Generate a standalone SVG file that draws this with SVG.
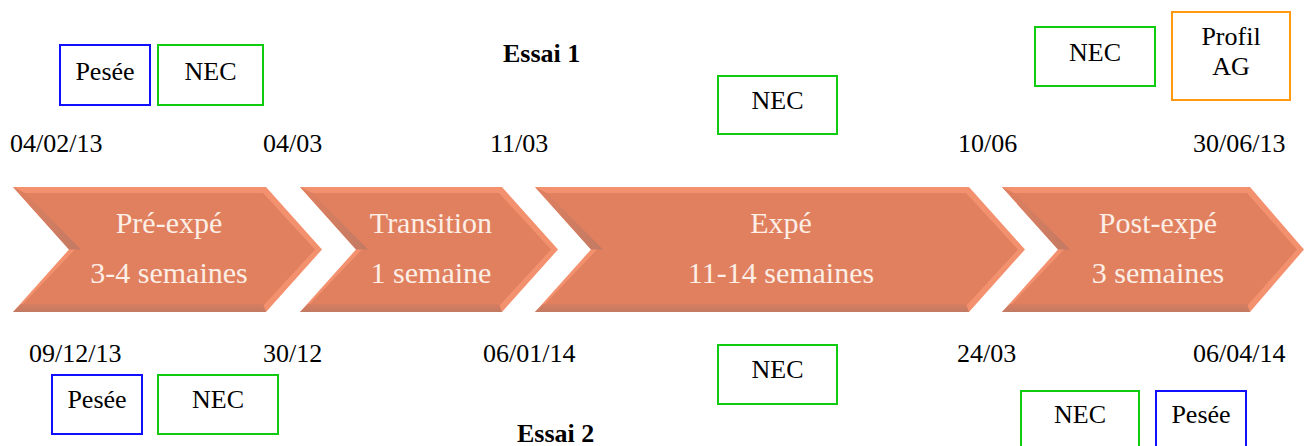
<svg xmlns="http://www.w3.org/2000/svg" width="1304" height="446" viewBox="0 0 1304 446">
<defs>
<style>
.t{font-size:26px;fill:#000}
.b{font-weight:bold}
.c{text-anchor:middle}
.ch{font-size:30px;fill:#fdeee6;text-anchor:middle}
.box{fill:#fff;stroke-width:2}
.blue{stroke:#1010ff}
.green{stroke:#10cc10}
.orange{stroke:#ff9a10}
.hi{fill:#f3906e}
.main{fill:#e0805f}
.dk{fill:url(#gdk)}
.bot{fill:url(#gbot)}
</style>
<linearGradient id="gdk" x1="0" y1="0" x2="1" y2="0">
<stop offset="0" stop-color="#e0805f"/>
<stop offset="1" stop-color="#c27a64"/>
</linearGradient>
<linearGradient id="gbot" x1="0" y1="0" x2="0" y2="1">
<stop offset="0" stop-color="#d87e60"/>
<stop offset="1" stop-color="#c27a63"/>
</linearGradient>
</defs>
<rect width="1304" height="446" fill="#fff"/>
<g font-family="'Liberation Serif', 'DejaVu Serif', serif">
<g id="chevron-pre">
<polygon class="hi" points="13,187 266,187 322,249.5 266,312 13,312 69,249.5"/>
<polygon class="main" points="21,193 263,193 315,249.5 263,306 21,306 75,249.5"/>
<polygon class="dk" points="13,187 25,193 81,249.5 69,249.5"/>
<polygon class="bot" points="21,304 263,304 266,312 13,312"/>
<text class="ch" x="169" y="233">Pré-expé</text>
<text class="ch" x="169" y="283">3-4 semaines</text>
</g>

<g id="chevron-transition">
<polygon class="hi" points="300,187 502,187 558,249.5 502,312 300,312 356,249.5"/>
<polygon class="main" points="308,193 499,193 551,249.5 499,306 308,306 362,249.5"/>
<polygon class="dk" points="300,187 312,193 368,249.5 356,249.5"/>
<polygon class="bot" points="308,304 499,304 502,312 300,312"/>
<text class="ch" x="431" y="233">Transition</text>
<text class="ch" x="431" y="283">1 semaine</text>
</g>

<g id="chevron-expe">
<polygon class="hi" points="535,187 969,187 1025,249.5 969,312 535,312 591,249.5"/>
<polygon class="main" points="543,193 966,193 1018,249.5 966,306 543,306 597,249.5"/>
<polygon class="dk" points="535,187 547,193 603,249.5 591,249.5"/>
<polygon class="bot" points="543,304 966,304 969,312 535,312"/>
<text class="ch" x="781" y="233">Expé</text>
<text class="ch" x="781" y="283">11-14 semaines</text>
</g>

<g id="chevron-post">
<polygon class="hi" points="1002,187 1250,187 1304,249.5 1250,312 1002,312 1058,249.5"/>
<polygon class="main" points="1010,193 1247,193 1297,249.5 1247,306 1010,306 1064,249.5"/>
<polygon class="dk" points="1002,187 1014,193 1070,249.5 1058,249.5"/>
<polygon class="bot" points="1010,304 1247,304 1250,312 1002,312"/>
<text class="ch" x="1158" y="233">Post-expé</text>
<text class="ch" x="1158" y="283">3 semaines</text>
</g>

<g id="connectors"></g>

<g id="essai1"><text class="t b" x="503" y="62">Essai 1</text></g>
<g id="essai2"><text class="t b" x="517" y="442">Essai 2</text></g>

<g id="dates-top">
<text class="t" x="10" y="152">04/02/13</text>
<text class="t" x="263" y="152">04/03</text>
<text class="t" x="490" y="152">11/03</text>
<text class="t" x="958" y="152">10/06</text>
<text class="t" x="1193" y="152">30/06/13</text>
</g>
<g id="dates-bottom">
<text class="t" x="29" y="362">09/12/13</text>
<text class="t" x="263" y="362">30/12</text>
<text class="t" x="483" y="362">06/01/14</text>
<text class="t" x="957" y="362">24/03</text>
<text class="t" x="1193" y="362">06/04/14</text>
</g>

<g id="pesee-top"><rect class="box blue" x="60" y="45" width="90" height="60"/><text class="t c" x="105" y="80">Pesée</text></g>
<g id="nec-top-1"><rect class="box green" x="158" y="45" width="105" height="60"/><text class="t c" x="210.5" y="80">NEC</text></g>
<g id="nec-top-2"><rect class="box green" x="718" y="76" width="119" height="58"/><text class="t c" x="777.5" y="109">NEC</text></g>
<g id="nec-top-3"><rect class="box green" x="1035" y="27" width="120" height="59"/><text class="t c" x="1095" y="61">NEC</text></g>
<g id="profil-ag"><rect class="box orange" x="1172" y="12" width="118" height="88"/><text class="t c" x="1231" y="45">Profil</text><text class="t c" x="1231" y="75">AG</text></g>

<g id="pesee-bottom-1"><rect class="box blue" x="52" y="375" width="90" height="59"/><text class="t c" x="97" y="408">Pesée</text></g>
<g id="nec-bottom-1"><rect class="box green" x="158" y="375" width="120" height="59"/><text class="t c" x="218" y="408">NEC</text></g>
<g id="nec-bottom-2"><rect class="box green" x="718" y="345" width="119" height="59"/><text class="t c" x="777.5" y="378">NEC</text></g>
<g id="nec-bottom-3"><rect class="box green" x="1021" y="391" width="118" height="62"/><text class="t c" x="1080" y="423">NEC</text></g>
<g id="pesee-bottom-2"><rect class="box blue" x="1156" y="391" width="90" height="62"/><text class="t c" x="1201" y="423">Pesée</text></g>
</g>
</svg>
